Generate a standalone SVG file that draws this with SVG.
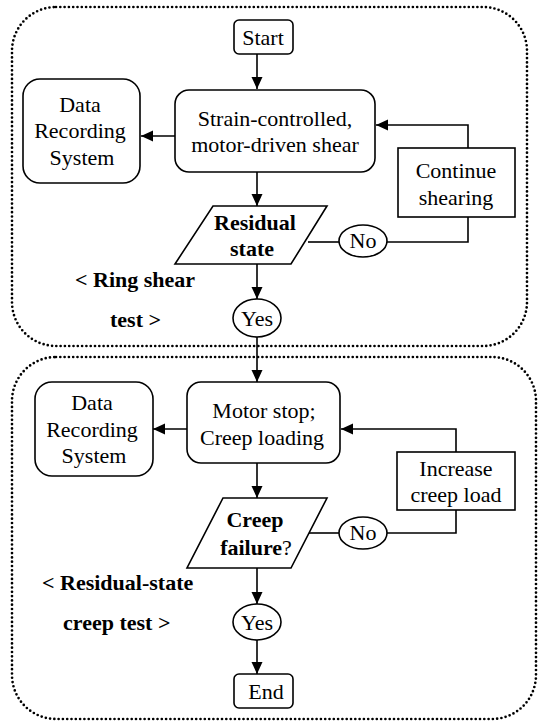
<svg xmlns="http://www.w3.org/2000/svg" width="539" height="723" viewBox="0 0 539 723">
<defs>
<marker id="arr" markerWidth="12" markerHeight="12" refX="12" refY="6" orient="auto" markerUnits="userSpaceOnUse">
<path d="M0,0.5 L12,6 L0,11.5 Z" fill="#000"/>
</marker>
<style>
.dot{fill:none;stroke:#000;stroke-width:2.7;stroke-linecap:round;stroke-dasharray:0 4.3}
.box{fill:#fff;stroke:#000;stroke-width:1.6}
.ln{fill:none;stroke:#000;stroke-width:1.6}
.t{font-family:"Liberation Serif","Times New Roman","DejaVu Serif",serif;font-size:22px;text-anchor:middle;fill:#000}
.b{font-weight:bold}
.l{text-anchor:start}
</style>
</defs>
<rect class="dot" x="12" y="7" width="515" height="339" rx="44"/>
<rect class="dot" x="12" y="357" width="524" height="362" rx="44"/>
<g id="connectors">
<path class="ln" d="M257,54 V89" marker-end="url(#arr)"/>
<path class="ln" d="M175,136 H141" marker-end="url(#arr)"/>
<path class="ln" d="M257,172 V206" marker-end="url(#arr)"/>
<path class="ln" d="M308,242 H339"/>
<path class="ln" d="M387,242 H468 V217"/>
<path class="ln" d="M468,148 V125 H376" marker-end="url(#arr)"/>
<path class="ln" d="M257,264 V299" marker-end="url(#arr)"/>
<path class="ln" d="M257,337 V382" marker-end="url(#arr)"/>
<path class="ln" d="M187,429 H153" marker-end="url(#arr)"/>
<path class="ln" d="M257,463 V498" marker-end="url(#arr)"/>
<path class="ln" d="M309,533 H339"/>
<path class="ln" d="M387,533 H456 V510"/>
<path class="ln" d="M456,452 V429 H341" marker-end="url(#arr)"/>
<path class="ln" d="M257,568 V604" marker-end="url(#arr)"/>
<path class="ln" d="M257,640 V674" marker-end="url(#arr)"/>
</g>
<g id="start">
<rect class="box" x="234" y="20" width="59" height="34" rx="5"/>
<text class="t" x="263" y="45">Start</text>
</g>
<g id="shear">
<rect class="box" x="175" y="90" width="200" height="82" rx="14"/>
<text class="t" x="275" y="126">Strain-controlled,</text>
<text class="t" x="275" y="152">motor-driven shear</text>
</g>
<g id="data1">
<rect class="box" x="23" y="79" width="117" height="104" rx="17"/>
<text class="t" x="80" y="112">Data</text>
<text class="t" x="80" y="138">Recording</text>
<text class="t" x="82" y="165">System</text>
</g>
<g id="continue">
<rect class="box" x="398" y="148" width="117" height="69"/>
<text class="t" x="456" y="178">Continue</text>
<text class="t" x="456" y="205">shearing</text>
</g>
<g id="residual">
<polygon class="box" points="213,206 327,206 291,264 175,264"/>
<text class="t b" x="255" y="230">Residual</text>
<text class="t b" x="252" y="256">state</text>
</g>
<g id="no1">
<ellipse class="box" cx="363" cy="241" rx="24" ry="16"/>
<text class="t" x="363" y="248">No</text>
</g>
<g id="yes1">
<ellipse class="box" cx="257" cy="318" rx="24" ry="19"/>
<text class="t" x="257" y="326">Yes</text>
</g>
<text class="t b l" x="75" y="287">&lt; Ring shear</text>
<text class="t b l" x="110" y="327">test &gt;</text>
<g id="motor">
<rect class="box" x="187" y="382" width="153" height="81" rx="14"/>
<text class="t" x="264" y="418">Motor stop;</text>
<text class="t" x="262" y="445">Creep loading</text>
</g>
<g id="data2">
<rect class="box" x="35" y="382" width="118" height="94" rx="17"/>
<text class="t" x="92" y="410">Data</text>
<text class="t" x="92" y="437">Recording</text>
<text class="t" x="94" y="463">System</text>
</g>
<g id="increase">
<rect class="box" x="397" y="452" width="118" height="58"/>
<text class="t" x="456" y="476">Increase</text>
<text class="t" x="456" y="502">creep load</text>
</g>
<g id="creep">
<polygon class="box" points="223,498 327,498 291,568 187,568"/>
<text class="t b" x="255" y="527">Creep</text>
<text class="t" x="256" y="555"><tspan class="b">failure</tspan>?</text>
</g>
<g id="no2">
<ellipse class="box" cx="363" cy="533" rx="24" ry="16"/>
<text class="t" x="363" y="540">No</text>
</g>
<g id="yes2">
<ellipse class="box" cx="257" cy="622" rx="24" ry="18"/>
<text class="t" x="257" y="630">Yes</text>
</g>
<text class="t b l" x="42" y="590">&lt; Residual-state</text>
<text class="t b l" x="63" y="630">creep test &gt;</text>
<g id="end">
<rect class="box" x="234" y="674" width="59" height="34" rx="5"/>
<text class="t" x="266" y="699">End</text>
</g>
</svg>
